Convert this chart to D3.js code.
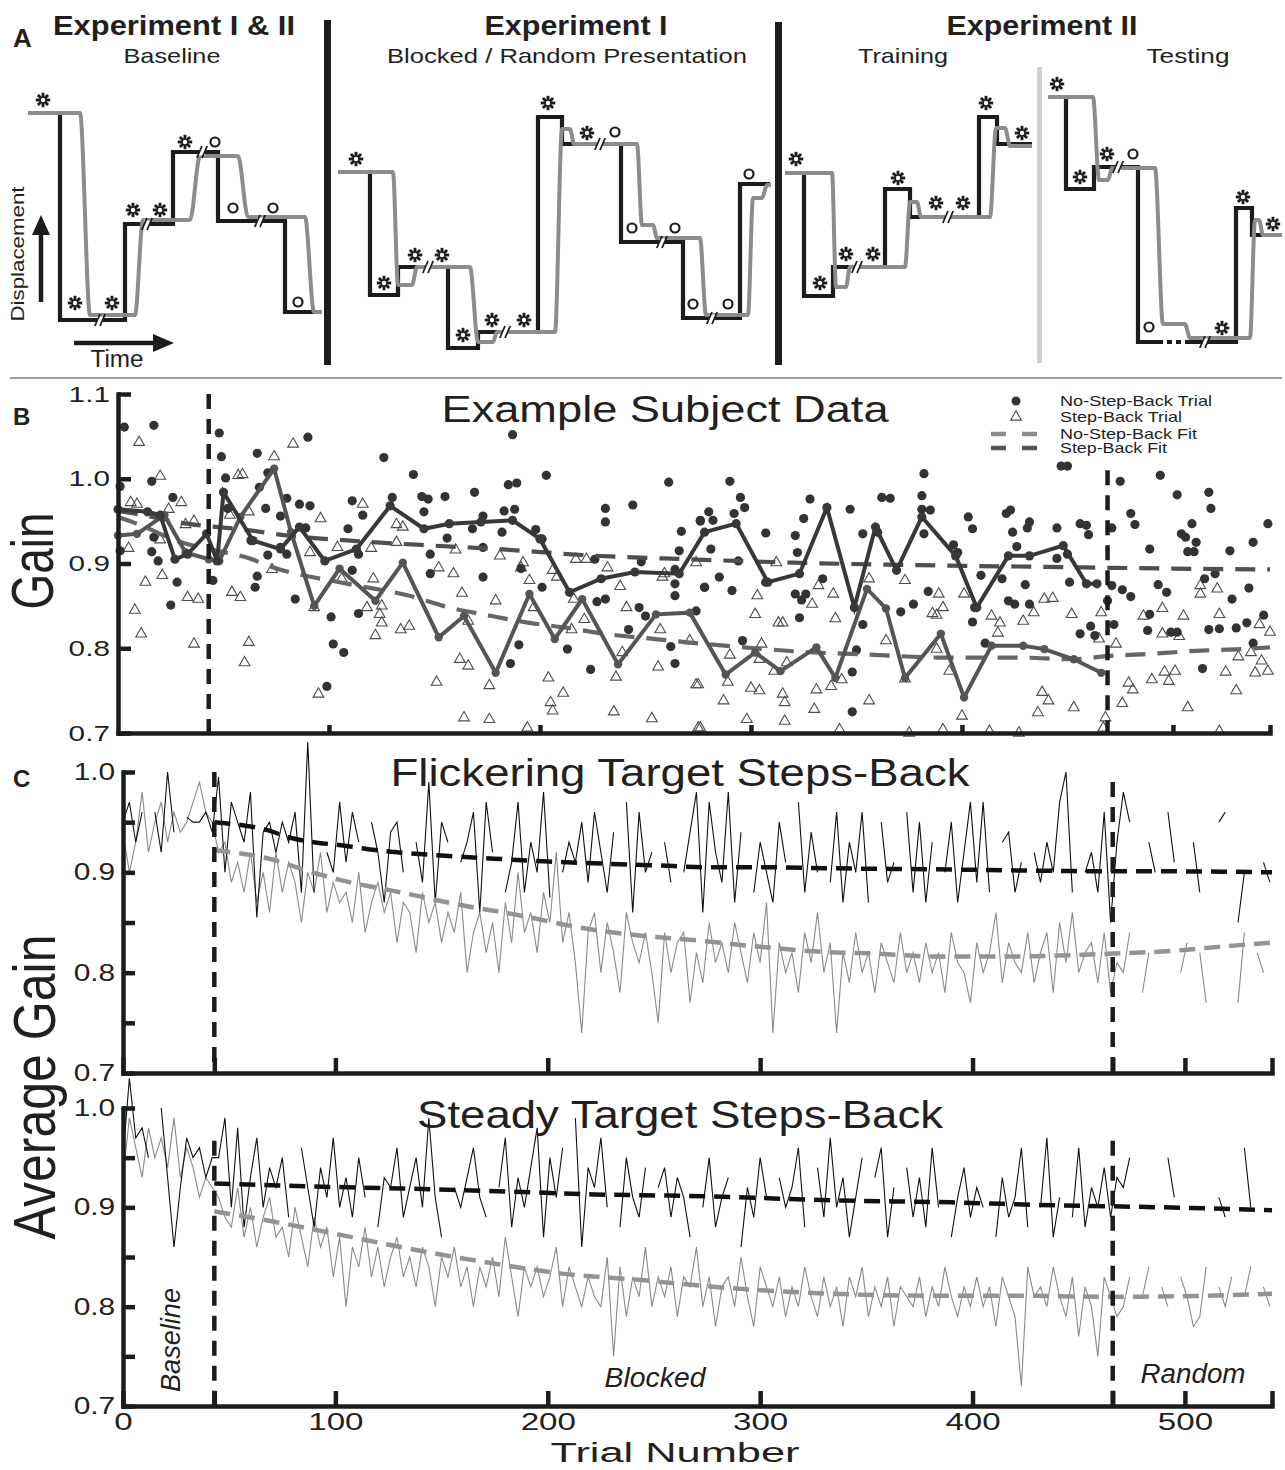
<!DOCTYPE html>
<html><head><meta charset="utf-8">
<script src="https://cdn.jsdelivr.net/npm/d3@7"></script>
<style>
body{margin:0;background:#fff}
svg{display:block}
text{font-family:"Liberation Sans",Arial,Helvetica,sans-serif;fill:#231f20}
</style>
</head><body>
<svg id="fig" width="1285" height="1470"></svg>
<script>
// ================= PANEL A (schematic: time vs displacement) =================
const a1TargetT = [28,60,125,173,218,285,322];
const a1TargetD = [267,60,156,228,159,68];
const a1EyeT = [28,80,90,135,143,190,200,238,248,305,314,322];
const a1EyeD = [267,267,65,65,160,160,224,224,163,163,68,68];
const a1Stars = [[43,280],[75,77],[112,77],[133,170],[160,170],[185,238]];
const a1Circles = [[215,238],[233,172],[273,172],[298,78]];
const a1Breaks = [[100,60],[147,156],[202,228],[260,159]];

const a2TargetT = [338,370,398,448,478,538,562,621,683,740,770];
const a2TargetD = [208,85,113,32,48,263,236,138,62,196];
const a2EyeT = [338,393,398,412,417,470,478,493,497,555,562,570,574,637,642,653,657,700,706,748,753,762,767,771];
const a2EyeD = [208,208,95,95,113,113,38,38,48,48,251,251,236,236,155,155,142,142,65,65,182,182,195,195];
const a2Stars = [[356,221],[384,97],[415,125],[442,125],[463,45],[492,60],[524,60],[548,277],[587,247]];
const a2Circles = [[615,248],[632,152],[675,152],[693,76],[728,76],[749,206]];
const a2Breaks = [[428,113],[505,48],[600,236],[662,138],[712,62]];

const a3TrainTargetT = [785,804,833,885,910,979,997,1032];
const a3TrainTargetD = [207,84,113,191,163,263,236];
const a3TrainEyeT = [785,832,836,846,850,905,910,917,921,990,996,1005,1010,1032];
const a3TrainEyeD = [207,207,93,93,113,113,178,178,163,163,252,252,234,234];
const a3TestTargetT = [1048,1066,1094,1138,1236,1252,1282];
const a3TestTargetD = [283,191,213,38,172,145];
const a3TestEyeT = [1048,1093,1099,1108,1112,1155,1163,1185,1190,1250,1255,1259,1263,1282];
const a3TestEyeD = [283,283,200,200,212,212,56,56,42,42,160,160,145,145];
const a3Stars = [[796,221],[820,97],[846,126],[873,126],[898,202],[936,177],[963,177],[986,277],[1022,247],
                 [1057,296],[1080,203],[1107,226],[1222,52],[1243,183],[1273,156]];
const a3Circles = [[1133,226],[1149,53]];
const a3Breaks = [[857,113],[948,163],[1118,213],[1205,38]];
const a3Dotted = [[1158,38],[1190,38]];

// ================= PANEL B (example subject) =================
const bPhaseBounds = [43, 469];
const bPhaseTops = [1.1, 1.01];
const bYTicks = [0.7,0.8,0.9,1.0,1.1];
const bXTicks = [100,200,300,400,500,546];
const nsbDots = [[3,1.061],[17,1.063],[48,1.054],[90,1.049],[187,1.052],[49,1.026],[66,1.030],[126,1.025],[140,1.005],[203,1.004],[261,.996],[1,.991],[16,.997],[51,1.001],[71,1.007],[67,.990],[26,.978],[80,.977],[111,.974],[130,.978],[144,.979],[147,.976],[155,.979],[169,.984],[185,.993],[189,.995],[231,.965],[244,.969],[86,.970],[91,.968],[145,.961],[183,.962],[188,.964],[70,.965],[52,.965],[77,.956],[116,.957],[173,.956],[231,.949],[276,.951],[168,.941],[198,.940],[109,.941],[89,.942],[156,.930],[267,.938],[17,.931],[63,.927],[77,.919],[173,.919],[182,.937],[201,.929],[266,.915],[16,.914],[19,.903],[71,.910],[80,.911],[114,.911],[148,.911],[226,.905],[248,.902],[264,.893],[1,.915],[45,.880],[28,.878],[66,.885],[111,.892],[148,.888],[173,.884],[191,.894],[278,.872],[65,.872],[201,.872],[264,.876],[264,.862],[25,.851],[84,.858],[227,.855],[231,.858],[247,.848],[250,.838],[101,.837],[114,.841],[242,.822],[102,.805],[107,.795],[190,.804],[213,.799],[262,.802],[186,.782],[224,.775],[264,.782],[99,.755],
 [447,1.015],[450,1.015],[382,1.006],[494,1.004],[290,.997],[475,.997],[502,.981],[517,.984],[295,.978],[328,.976],[297,.966],[362,.978],[366,.977],[381,.980],[280,.961],[381,.964],[385,.963],[347,.964],[518,.965],[276,.950],[282,.951],[292,.959],[325,.953],[403,.955],[480,.959],[456,.947],[459,.945],[432,.949],[423,.963],[421,.959],[482,.946],[509,.947],[307,.936],[321,.933],[360,.937],[353,.935],[382,.935],[405,.941],[424,.937],[431,.942],[445,.942],[460,.934],[471,.942],[504,.935],[506,.931],[545,.947],[538,.925],[511,.925],[489,.917],[507,.914],[510,.914],[527,.915],[281,.917],[322,.913],[294,.903],[396,.922],[398,.913],[426,.920],[445,.906],[450,.911],[285,.884],[278,.872],[291,.868],[307,.878],[321,.864],[326,.864],[334,.882],[324,.857],[384,.867],[377,.852],[371,.843],[409,.886],[419,.882],[515,.882],[520,.888],[471,.874],[476,.869],[480,.861],[493,.875],[497,.866],[451,.878],[430,.875],[422,.856],[425,.852],[432,.852],[406,.848],[405,.831],[536,.871],[528,.858],[543,.839],[535,.830],[530,.824],[538,.806],[522,.823],[517,.822],[502,.819],[499,.819],[489,.840],[488,.821],[472,.828],[461,.826],[463,.815],[456,.817],[469,.856],[323,.836],[353,.828],[411,.806],[296,.809],[350,.798],[348,.772],[348,.725],[514,.776],[274,.844]];
const sbTriangles = [[10,1.043],[83,1.041],[74,1.026],[20,1.003],[57,1.004],[59,1.005],[6,.972],[9,.970],[30,.972],[24,.964],[96,.953],[116,.970],[36,.950],[32,.946],[20,.928],[5,.918],[53,.957],[62,.961],[91,.913],[104,.919],[120,.918],[132,.946],[135,.943],[132,.925],[181,.909],[192,.901],[191,.895],[160,.916],[152,.895],[73,.893],[21,.886],[13,.878],[106,.882],[121,.882],[159,.888],[195,.880],[206,.892],[208,.884],[222,.905],[217,.905],[232,.895],[238,.873],[259,.888],[258,.884],[274,.901],[33,.860],[38,.858],[54,.866],[58,.860],[163,.865],[179,.856],[216,.858],[8,.845],[118,.848],[125,.850],[93,.848],[124,.840],[125,.830],[122,.815],[134,.822],[138,.826],[166,.832],[197,.848],[221,.834],[215,.822],[241,.848],[257,.822],[271,.809],[11,.817],[36,.805],[62,.807],[60,.783],[162,.787],[166,.779],[239,.795],[236,.766],[256,.778],[151,.760],[176,.756],[204,.765],[211,.747],[205,.736],[206,.726],[95,.746],[164,.718],[176,.716],[194,.706],[235,.725],[253,.717],[275,.757],[275,.706],
 [303,.862],[312,.901],[302,.840],[332,.874],[339,.864],[329,.852],[313,.830],[315,.830],[340,.835],[356,.882],[373,.880],[389,.864],[386,.841],[388,.839],[391,.848],[401,.864],[414,.838],[418,.830],[417,.818],[429,.832],[434,.842],[439,.858],[443,.859],[452,.840],[466,.842],[486,.838],[495,.847],[505,.838],[513,.874],[513,.864],[521,.870],[522,.840],[495,.817],[503,.814],[546,.819],[541,.828],[364,.809],[388,.799],[394,.773],[305,.805],[304,.787],[317,.783],[311,.773],[290,.792],[289,.760],[274,.757],[300,.753],[304,.750],[315,.746],[316,.736],[331,.751],[338,.755],[343,.763],[287,.738],[298,.716],[316,.714],[330,.728],[356,.738],[373,.764],[438,.748],[441,.738],[436,.724],[453,.730],[465,.811],[473,.805],[479,.759],[481,.751],[476,.735],[490,.763],[496,.772],[498,.761],[501,.773],[507,.730],[525,.772],[530,.750],[531,.790],[537,.795],[542,.785],[539,.771],[545,.773],[400,.720],[468,.718],[467,.706],[276,.706],[342,.704],[375,.700],[391,.704],[413,.702],[427,.700],[522,.702]];
const nsbAverage = [[0,.964],[14,.961],[20,.957],[27,.905],[33,.911],[42,.935],[47,.903],[50,.984],[64,.927],[77,.917],[86,.943],[98,.903],[113,.917],[129,.968],[145,.941],[157,.947],[172,.949],[187,.951],[200,.929],[214,.866],[229,.882],[245,.890],[266,.888],[278,.937],[293,.947],[308,.878],[323,.888],[336,.966],[349,.848],[359,.943],[369,.892],[381,.955],[397,.909],[407,.848],[422,.909],[432,.909],[448,.921],[459,.876],[464,.876]];
const sbAverage = [[0,.933],[9,.935],[22,.957],[32,.913],[43,.905],[48,.903],[58,.955],[74,1.012],[82,.937],[93,.850],[105,.894],[122,.856],[135,.901],[152,.813],[164,.838],[179,.771],[195,.864],[207,.811],[220,.858],[237,.781],[255,.840],[271,.842],[288,.769],[302,.795],[314,.773],[331,.801],[340,.765],[355,.870],[364,.847],[373,.765],[390,.817],[401,.742],[414,.803],[429,.803],[439,.799],[453,.787],[466,.771]];
const nsbFit = [[0,.962],[10,.958],[20,.953],[30,.948],[43,.944],[60,.940],[80,.933],[110,.927],[150,.921],[180,.917],[220,.910],[270,.905],[320,.901],[380,.898],[440,.896],[469,.895],[500,.894],[546,.893]];
const sbFit = [[0,.955],[10,.946],[20,.935],[30,.925],[43,.917],[61,.907],[74,.895],[109,.876],[141,.860],[154,.850],[177,.838],[195,.830],[213,.824],[231,.817],[254,.811],[270,.807],[297,.801],[330,.795],[352,.793],[391,.789],[427,.789],[452,.787],[470,.791],[487,.793],[511,.797],[532,.799],[546,.801]];
const bLegend = ["No-Step-Back Trial","Step-Back Trial","No-Step-Back Fit","Step-Back Fit"];

// ================= PANEL C (average gain, one value per 3 trials) =================
const cPhaseBounds = [43, 466];
const cTopPhaseTops = [1.0, 0.99];
const cBotPhaseTops = [0.967, 0.967];
const cYTicks = [0.7,0.75,0.8,0.85,0.9,0.95,1.0];
const cXTicks = [0,43,100,200,300,400,466,500,541];
const cXLabels = [0,100,200,300,400,500];
const cTrials = d3.range(0, 541, 3);
const flickNSB = [.95,.97,.93,.96,null,.96,.92,1.0,.94,null,.955,.95,.95,.96,.94,
 .995,.90,.97,.95,.93,.98,.855,.94,.95,.92, .95,.93,.96,.88,1.03,.88,null,.92,.90,.97,
 .91,.96,.93,null,.95,.92,.87,.94,.95,.90, null,.93,.89,.99,.87,.95,.93,null,.91,.93,
 .96,.86,.97,.92,null,.88,.91,.97,.88,.93, .90,.98,.875,null,.90,.93,.91,.95,.89,.96,
 .92,.88,.94,null,.97,.86,.96,.90,.92,null, .93,.89,null,.90,.94,.98,.86,.97,.92,.89,
 .98,.87,.94,null,.88,.93,.90,.87,.95,.91, null,.97,.88,.94,.90,null,.89,.96,.87,.93,
 .90,.96,.87,null,.95,.89,.91,null,.96,.88, .95,.87,.93,null,.90,.95,.87,.92,.97,.89,
 .97,.88,null,.93,.94,.88,.91,null,.92,.89, .93,.90,.97,1.0,.88,null,.90,.92,.88,.96,
 .85,.93,
 .98,.95,null,null,.93,.90,null,.96,.91,null,null,.93,.88,null,null,.95,.96,null,.85,.90,null,null,.91,.89];
const flickSB = [.94,.90,.93,.98,.92,.95,.97,.93,.96,.94,.95,.97,.99,.96,.95,
 .92,.93,.89,.91,.88,.92,.87,.90,.86,.92, .88,.91,.89,.85,.90,.88,.92,.86,.89,.87,
 .88,.85,.90,.84,.87,.89,.86,.88,.83,.87, .86,.82,.88,.85,.87,.83,.86,.84,.88,.80,
 .84,.86,.82,.85,.80,.87,.83,.90,.84,.86, .82,.88,.85,.92,.83,.86,.81,.74,.84,.86,
 .80,.85,.82,.78,.86,.83,.81,.84,.80,.75, .84,.80,.83,.84,.77,.82,.79,.85,.81,.83,
 .80,.85,.82,.79,.84,.81,.87,.74,.83,.80, .82,.78,.84,.81,.86,.80,.83,.74,.82,.79,
 .84,.80,.82,.78,.83,.81,.79,.84,.80,.82, .79,.83,.80,.82,.78,.84,.81,.80,.77,.83,
 .80,.82,.86,.79,.83,.81,.80,.84,.79,.82, .84,.78,.85,.81,.86,.80,.82,.83,.79,.84,
 .78,.81,
 .80,.84,null,.78,.82,null,.81,null,null,.80,.83,null,.82,.77,null,.83,null,null,.77,.84,null,.82,.80,null];
const steadyNSB = [.95,1.03,.97,.98,.95,null,1.0,.93,.86,.92,.97,.95,.96,.93,.95,
 .95,.99,.90,.98,.88,.93,.97,.90,.94,.92, .95,.89,null,.96,.92,.88,.94,.91,.97,.90,
 .93,.89,.95,.91,null,.88,.93,.92,.96,.89, .92,.95,.90,.99,.91,.87,null,.92,.90,.93,
 .96,.91,.89,null,.92,.97,.88,.93,.90,.94, .98,.87,.95,.91,.96,null,.99,.86,.94,.92,
 .97,.90,null,.88,.95,.91,.89,.94,null,.92, .94,.89,.93,.91,.87,null,.90,.95,.88,.91,
 .93,null,.86,.92,.89,.95,.91,null,.93,.90, .92,.96,.88,null,.94,.89,.97,.90,.93,.87,
 .91,.95,null,.93,.96,.87,.92,null,.94,.89, .93,.88,.96,.90,null,.87,.91,.94,.89,.92,
 .90,null,.87,.93,.89,.91,.96,.88,null,.90, .97,.87,.91,null,.89,.96,.88,.92,.90,.94,
 .89,.93,
 .92,.95,null,null,null,null,null,.95,.91,null,null,null,null,null,null,.91,.89,null,null,.96,.90,null,null,null];
const steadySB = [.93,.99,.96,.93,.98,.95,.97,.94,.99,.93,.96,.94,.91,.93,.92,
 .91,.89,.88,.92,.87,.90,.86,.89,.91,.87, .88,.85,.90,.87,.84,.89,.86,.88,.83,.87,
 .80,.86,.84,.88,.83,.86,.82,.85,.87,.83, .85,.82,.86,.84,.80,.85,.83,.86,.82,.84,
 .80,.84,.82,.85,.81,.87,.83,.79,.84,.82, .84,.81,.83,.86,.80,.84,.82,.80,.83,.81,
 .80,.85,.75,.84,.79,.83,.81,.86,.80,.83, .81,.84,.79,.83,.82,.86,.80,.83,.78,.82,
 .83,.80,.85,.81,.78,.84,.82,.80,.83,.79, .82,.80,.84,.81,.79,.83,.80,.82,.78,.83,
 .81,.84,.79,.82,.80,.83,.78,.82,.81,.80, .83,.79,.82,.80,.84,.81,.79,.82,.80,.83,
 .80,.82,.78,.83,.81,.79,.72,.84,.81,.82, .80,.84,.81,.79,.83,.77,.82,.80,.75,.83,
 .81,.79,
 .80,.83,null,.81,.84,null,.82,.80,null,.83,.81,.78,.79,.84,null,.82,.80,.83,null,.81,.84,null,.82,.80];
const flickNSBFit = [[43,.950],[68,.942],[78,.935],[106,.926],[120,.922],[148,.917],[180,.913],[198,.911],[222,.909],[250,.907],[278,.905],[306,.905],[334,.904],[383,.903],[418,.902],[466,.901],[489,.901],[541,.900]];
const flickSBFit = [[43,.922],[68,.914],[89,.900],[103,.892],[131,.880],[155,.869],[187,.857],[215,.845],[243,.837],[271,.832],[299,.826],[327,.821],[355,.819],[383,.816],[411,.816],[440,.817],[466,.819],[496,.822],[517,.826],[541,.830]];
const steadyNSBFit = [[43,.924],[89,.921],[131,.919],[180,.916],[222,.913],[278,.911],[334,.907],[390,.905],[440,.902],[466,.901],[510,.899],[541,.897]];
const steadySBFit = [[43,.896],[75,.884],[103,.872],[138,.857],[173,.844],[208,.833],[243,.827],[278,.820],[313,.815],[348,.812],[383,.811],[418,.811],[466,.810],[510,.811],[541,.813]];

// ================= DRAWING =================
const svg = d3.select('#fig');
const INK = '#1c1c1c', EYE = '#8c8c8c';

function label(parent, str, o){
  const g = parent.append('g').attr('transform',
    `translate(${o.x},${o.y}) scale(${o.sx||1},1) rotate(${o.rot||0})`);
  const t = g.append('text').text(str)
    .attr('text-anchor', o.anchor||'middle')
    .attr('font-size', o.size)
    .attr('font-weight', o.weight||'normal')
    .attr('font-style', o.style||'normal');
  if (o.len) t.attr('textLength', o.len).attr('lengthAdjust','spacingAndGlyphs');
  return t;
}

// ---------- Panel A ----------
const xA = d3.scaleLinear().domain([0,1285]).range([0,1285]);
const yA = d3.scaleLinear().domain([0,380]).range([380,0]);
const gA = svg.append('g');
const stepLine = d3.line().x(d=>xA(d[0])).y(d=>yA(d[1])).curve(d3.curveStepAfter);
const eyeLine = d3.line().x(d=>xA(d[0])).y(d=>yA(d[1])).curve(d3.curveMonotoneX);
function stepPairs(T, D){ return T.map((t,i)=>[t, D[Math.min(i, D.length-1)]]); }
function zipPairs(T, D){ return T.map((t,i)=>[t, D[i]]); }

const targets = [[a1TargetT,a1TargetD],[a2TargetT,a2TargetD],[a3TrainTargetT,a3TrainTargetD],[a3TestTargetT,a3TestTargetD]];
const eyes = [[a1EyeT,a1EyeD],[a2EyeT,a2EyeD],[a3TrainEyeT,a3TrainEyeD],[a3TestEyeT,a3TestEyeD]];
targets.forEach(([T,D])=>{
  gA.append('path').attr('d', stepLine(stepPairs(T,D))).attr('fill','none')
    .attr('stroke',INK).attr('stroke-width',4.2).attr('stroke-linejoin','miter');
});
gA.append('path').attr('d', d3.line().x(d=>xA(d[0])).y(d=>yA(d[1]))(a3Dotted))
  .attr('stroke','#fff').attr('stroke-width',7);
gA.append('path').attr('d', d3.line().x(d=>xA(d[0])).y(d=>yA(d[1]))(a3Dotted))
  .attr('stroke',INK).attr('stroke-width',4.2).attr('stroke-dasharray','5,4');
eyes.forEach(([T,D])=>{
  gA.append('path').attr('d', eyeLine(zipPairs(T,D))).attr('fill','none')
    .attr('stroke',EYE).attr('stroke-width',4);
});
function drawBreak(t, d){
  const x = xA(t), y = yA(d);
  gA.append('line').attr('x1',x-3).attr('x2',x+3).attr('y1',y).attr('y2',y)
    .attr('stroke','#fff').attr('stroke-width',7);
  [-2.6, 2.6].forEach(o=>{
    gA.append('line').attr('x1',x+o-2.6).attr('y1',y+6).attr('x2',x+o+2.6).attr('y2',y-6)
      .attr('stroke',INK).attr('stroke-width',1.8);
  });
}
function drawStar(t, d){
  const x = xA(t), y = yA(d), r = 7.2;
  for (let k=0;k<4;k++){
    const a = k*Math.PI/4;
    gA.append('line').attr('x1',x-r*Math.cos(a)).attr('y1',y-r*Math.sin(a))
      .attr('x2',x+r*Math.cos(a)).attr('y2',y+r*Math.sin(a))
      .attr('stroke',INK).attr('stroke-width',2.9);
  }
  gA.append('circle').attr('cx',x).attr('cy',y).attr('r',2.2).attr('fill','#fff');
}
function drawCircle(t, d){
  gA.append('circle').attr('cx',xA(t)).attr('cy',yA(d)).attr('r',4.5)
    .attr('fill','#fff').attr('stroke',INK).attr('stroke-width',2.2);
}
[...a1Breaks,...a2Breaks,...a3Breaks].forEach(p=>drawBreak(p[0],p[1]));
[...a1Stars,...a2Stars,...a3Stars].forEach(p=>drawStar(p[0],p[1]));
[...a1Circles,...a2Circles,...a3Circles].forEach(p=>drawCircle(p[0],p[1]));

gA.append('rect').attr('x',xA(324)).attr('y',yA(360)).attr('width',7).attr('height',345).attr('fill',INK);
gA.append('rect').attr('x',xA(775)).attr('y',yA(358)).attr('width',7).attr('height',343).attr('fill',INK);
gA.append('rect').attr('x',xA(1037)).attr('y',yA(313)).attr('width',5).attr('height',296).attr('fill','#cfcfcf');
svg.append('line').attr('x1',10).attr('x2',1282).attr('y1',378).attr('y2',378).attr('stroke','#9d9d9d').attr('stroke-width',2);
gA.append('line').attr('x1',xA(41)).attr('x2',xA(41)).attr('y1',yA(78)).attr('y2',yA(148)).attr('stroke',INK).attr('stroke-width',4.5);
gA.append('path').attr('d',`M${xA(41)},${yA(165)}L${xA(32)},${yA(145)}L${xA(50)},${yA(145)}Z`).attr('fill',INK);
gA.append('line').attr('x1',xA(74)).attr('x2',xA(156)).attr('y1',yA(37)).attr('y2',yA(37)).attr('stroke',INK).attr('stroke-width',4.5);
gA.append('path').attr('d',`M${xA(174)},${yA(37)}L${xA(153)},${yA(46)}L${xA(153)},${yA(28)}Z`).attr('fill',INK);

label(svg,'A',{x:13,y:47,size:26,weight:'bold',anchor:'start'});
label(svg,'Experiment I & II',{x:174,y:35,size:28,weight:'bold',len:242});
label(svg,'Baseline',{x:172,y:63,size:21,len:97});
label(svg,'Experiment I',{x:576,y:35,size:28,weight:'bold',len:183});
label(svg,'Blocked / Random Presentation',{x:567,y:63,size:21,len:360});
label(svg,'Experiment II',{x:1042,y:35,size:28,weight:'bold',len:191});
label(svg,'Training',{x:903,y:63,size:21,len:90});
label(svg,'Testing',{x:1188,y:63,size:21,len:83});
label(svg,'Displacement',{x:24,y:254,size:19,rot:-90,len:135});
label(svg,'Time',{x:117,y:367,size:23,len:53});

function styleAxis(g, fs, sx){
  g.select('.domain').attr('stroke',INK).attr('stroke-width',4.5).attr('stroke-linecap','square');
  g.selectAll('.tick line').attr('stroke',INK).attr('stroke-width',4.5);
  g.selectAll('.tick text').attr('font-size',fs).attr('transform',`scale(${sx},1)`);
}

// ---------- Panel B ----------
const xB = d3.scaleLinear().domain([0,546]).range([118,1270]);
const yB = d3.scaleLinear().domain([0.7,1.1]).range([733,394]);
const gB = svg.append('g');

gB.selectAll('path.tri').data(sbTriangles).join('path').attr('class','tri')
  .attr('d', d3.symbol(d3.symbolTriangle, 50)())
  .attr('transform', d=>`translate(${xB(d[0])},${yB(d[1])})`)
  .attr('fill','none').attr('stroke','#4d4d4d').attr('stroke-width',1.1);
gB.selectAll('circle.dot').data(nsbDots).join('circle').attr('class','dot')
  .attr('cx',d=>xB(d[0])).attr('cy',d=>yB(d[1])).attr('r',4.6).attr('fill','#333');

const lineB = d3.line().x(d=>xB(d[0])).y(d=>yB(d[1]));
gB.append('path').attr('d', lineB.curve(d3.curveMonotoneX)(nsbFit)).attr('fill','none')
  .attr('stroke','#4f4f4f').attr('stroke-width',4.2).attr('stroke-dasharray','20,12');
gB.append('path').attr('d', lineB.curve(d3.curveMonotoneX)(sbFit)).attr('fill','none')
  .attr('stroke','#666').attr('stroke-width',4.2).attr('stroke-dasharray','20,12');
lineB.curve(d3.curveLinear);
gB.append('path').attr('d', lineB(sbAverage)).attr('fill','none').attr('stroke','#555').attr('stroke-width',4);
gB.selectAll('circle.sbv').data(sbAverage).join('circle').attr('class','sbv')
  .attr('cx',d=>xB(d[0])).attr('cy',d=>yB(d[1])).attr('r',4.2).attr('fill','#555');
gB.append('path').attr('d', lineB(nsbAverage)).attr('fill','none').attr('stroke','#383838').attr('stroke-width',4);
gB.selectAll('circle.nsbv').data(nsbAverage).join('circle').attr('class','nsbv')
  .attr('cx',d=>xB(d[0])).attr('cy',d=>yB(d[1])).attr('r',4.6).attr('fill','#383838');

bPhaseBounds.forEach((t,i)=>{
  gB.append('line').attr('x1',xB(t)).attr('x2',xB(t)).attr('y1',yB(bPhaseTops[i])).attr('y2',yB(0.7))
    .attr('stroke',INK).attr('stroke-width',4.5).attr('stroke-dasharray','15,10');
});
const axBL = gB.append('g').attr('transform',`translate(${xB(0)},0)`)
  .call(d3.axisLeft(yB).tickValues(bYTicks).tickSize(-13).tickSizeOuter(0).tickPadding(6).tickFormat(d3.format('.1f')));
styleAxis(axBL, 22, 1.35);
const axBB = gB.append('g').attr('transform',`translate(0,${yB(0.7)})`)
  .call(d3.axisBottom(xB).tickValues(bXTicks).tickSize(-8).tickSizeOuter(0).tickFormat(''));
styleAxis(axBB, 22, 1.3);

label(svg,'B',{x:13,y:425,size:24,weight:'bold',anchor:'start'});
label(svg,'Example Subject Data',{x:665,y:422,size:36,len:447});
label(svg,'Gain',{x:53,y:561,size:46,rot:-90,sx:1.3,len:97});

const lg = svg.append('g');
lg.append('circle').attr('cx',1016).attr('cy',401).attr('r',4.5).attr('fill','#333');
lg.append('path').attr('d', d3.symbol(d3.symbolTriangle, 50)()).attr('transform','translate(1016,417)')
  .attr('fill','none').attr('stroke','#4d4d4d').attr('stroke-width',1.1);
[[434,'#8a8a8a'],[448,'#555']].forEach(([y,c])=>{
  lg.append('line').attr('x1',991).attr('x2',1037).attr('y1',y).attr('y2',y)
    .attr('stroke',c).attr('stroke-width',4.5).attr('stroke-dasharray','15,16');
});
const lgY = [406,422,439,453], lgLen = [152,122,137,107];
bLegend.forEach((s,i)=>label(lg, s, {x:1060,y:lgY[i],size:14.5,anchor:'start',len:lgLen[i]}));

// ---------- Panel C ----------
const xC = d3.scaleLinear().domain([0,541]).range([123,1272]);
const yC1 = d3.scaleLinear().domain([0.7,1.0]).range([1073,772]);
const yC2 = d3.scaleLinear().domain([0.7,1.0]).range([1406,1108]);
const fmtC = d=> Math.abs(d*10-Math.round(d*10))<1e-6 ? d3.format('.1f')(d) : '';

function drawCPanel(yC, nsb, sb, nsbF, sbF, tops, showX){
  const g = svg.append('g');
  const ln = d3.line().defined(d=>d[1]!=null).x(d=>xC(d[0])).y(d=>yC(d[1]));
  g.append('path').attr('d', ln(cTrials.map((t,i)=>[t, sb[i]]))).attr('fill','none')
    .attr('stroke','#8a8a8a').attr('stroke-width',1.1);
  g.append('path').attr('d', ln(cTrials.map((t,i)=>[t, nsb[i]]))).attr('fill','none')
    .attr('stroke','#111').attr('stroke-width',1.1);
  const fl = d3.line().x(d=>xC(d[0])).y(d=>yC(d[1])).curve(d3.curveMonotoneX);
  g.append('path').attr('d', fl(sbF)).attr('fill','none').attr('stroke','#939393')
    .attr('stroke-width',4.5).attr('stroke-dasharray','16,9');
  g.append('path').attr('d', fl(nsbF)).attr('fill','none').attr('stroke','#111')
    .attr('stroke-width',4.5).attr('stroke-dasharray','16,9');
  cPhaseBounds.forEach((t,i)=>{
    g.append('line').attr('x1',xC(t)).attr('x2',xC(t)).attr('y1',yC(tops[i])).attr('y2',yC(0.7))
      .attr('stroke',INK).attr('stroke-width',4.5).attr('stroke-dasharray','15,10');
  });
  const al = g.append('g').attr('transform',`translate(${xC(0)},0)`)
    .call(d3.axisLeft(yC).tickValues(cYTicks).tickSize(-12).tickSizeOuter(0).tickPadding(6).tickFormat(fmtC));
  styleAxis(al, 23, 1.3);
  const ab = g.append('g').attr('transform',`translate(0,${yC(0.7)})`)
    .call(d3.axisBottom(xC).tickValues(cXTicks).tickSize(-15).tickSizeOuter(0).tickPadding(7)
      .tickFormat(d=> showX && cXLabels.includes(d) ? String(d) : ''));
  styleAxis(ab, 24, 1.38);
  return g;
}
drawCPanel(yC1, flickNSB, flickSB, flickNSBFit, flickSBFit, cTopPhaseTops, false);
drawCPanel(yC2, steadyNSB, steadySB, steadyNSBFit, steadySBFit, cBotPhaseTops, true);

label(svg,'C',{x:13,y:787,size:24,weight:'bold',anchor:'start'});
label(svg,'Flickering Target Steps-Back',{x:680,y:786,size:38,len:579});
label(svg,'Steady Target Steps-Back',{x:680,y:1128,size:38,len:526});
label(svg,'Average Gain',{x:55,y:1087,size:50,rot:-90,sx:1.17,len:305});
label(svg,'Baseline',{x:180,y:1340,size:27,rot:-90,style:'italic',len:104});
label(svg,'Blocked',{x:655,y:1387,size:28,style:'italic',len:101});
label(svg,'Random',{x:1193,y:1383,size:28,style:'italic',len:105});
label(svg,'Trial Number',{x:675,y:1462,size:27,len:249});
</script>
</body></html>
